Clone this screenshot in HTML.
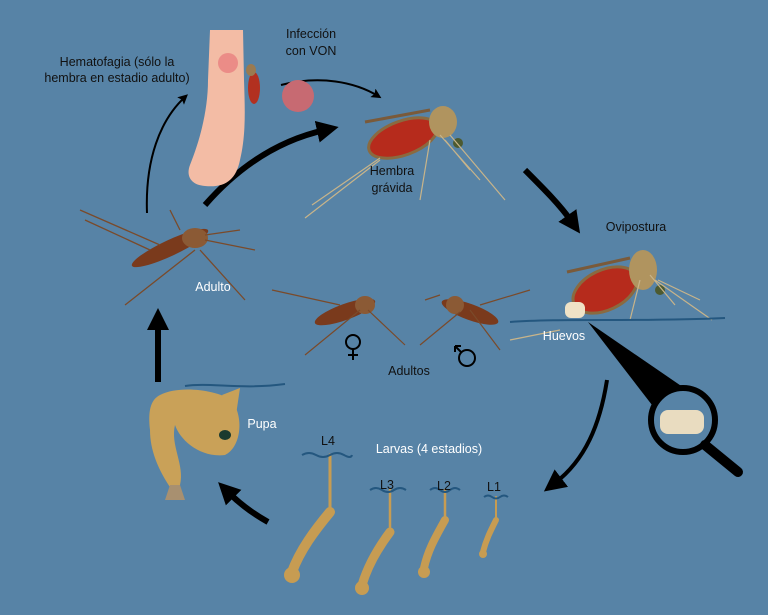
<!DOCTYPE html>
<html><head><meta charset="utf-8"><style>
html,body{margin:0;padding:0;background:#5783a6;}
svg{display:block}
text{font-family:"Liberation Sans",sans-serif;font-size:12.5px;}
</style></head><body>
<svg width="768" height="615" viewBox="0 0 768 615" xmlns="http://www.w3.org/2000/svg">
<defs>
<marker id="at" markerWidth="10" markerHeight="10" refX="6" refY="5" orient="auto" markerUnits="userSpaceOnUse"><path d="M0,0 L10,5 L0,10 L2,5 z" fill="#000"/></marker>
<marker id="ab" markerWidth="22" markerHeight="22" refX="8" refY="11" orient="auto" markerUnits="userSpaceOnUse"><path d="M0,0 L22,11 L0,22 z" fill="#000"/></marker>
</defs>
<rect width="768" height="615" fill="#5783a6"/>

<!-- arrows -->
<path d="M147,213 C145,160 160,120 185,97" stroke="#000" stroke-width="2" fill="none" marker-end="url(#at)"/>
<path d="M281,85 C320,75 355,82 378,96" stroke="#000" stroke-width="2" fill="none" marker-end="url(#at)"/>
<path d="M205,205 C240,165 280,140 325,130" stroke="#000" stroke-width="6" fill="none" marker-end="url(#ab)"/>
<path d="M525,170 C545,190 560,205 572,222" stroke="#000" stroke-width="6" fill="none" marker-end="url(#ab)"/>
<path d="M607,380 C600,425 585,460 555,483" stroke="#000" stroke-width="4" fill="none" marker-end="url(#ab)"/>
<path d="M268,522 C250,512 238,502 228,492" stroke="#000" stroke-width="6" fill="none" marker-end="url(#ab)"/>
<path d="M158,382 L158,322" stroke="#000" stroke-width="6" fill="none" marker-end="url(#ab)"/>

<!-- foot -->
<path d="M210,30 L243,30 L244,80 C245,110 246,135 240,160 C236,180 225,188 205,186 C190,185 186,175 190,165 C200,140 208,110 208,80 Z" fill="#f3bca5"/>
<circle cx="228" cy="63" r="10" fill="#e88080" opacity="0.8"/>
<ellipse cx="254" cy="88" rx="6" ry="16" fill="#b23020"/>
<ellipse cx="251" cy="70" rx="5" ry="6" fill="#9a7a50"/>
<circle cx="298" cy="96" r="16" fill="#c76a72"/>

<!-- Hembra gravida -->
<path d="M365,122 L430,110" stroke="#7a5a3a" stroke-width="3"/>
<ellipse cx="403" cy="138" rx="36" ry="17" transform="rotate(-20 403 138)" fill="#b62b1c" stroke="#8a6a40" stroke-width="3"/>
<ellipse cx="443" cy="122" rx="14" ry="16" fill="#b0945f"/>
<circle cx="458" cy="143" r="5" fill="#4c5a30"/>
<path d="M305,218 L380,160 M312,205 L380,158 M440,135 L480,180 M450,135 L505,200 M430,140 L420,200 M445,140 L470,170" stroke="#c8b48a" stroke-width="1.2" fill="none"/>

<!-- Ovipostura mosquito -->
<path d="M567,272 L630,258" stroke="#7a5a3a" stroke-width="3"/>
<ellipse cx="605" cy="290" rx="34" ry="20" transform="rotate(-25 605 290)" fill="#b62b1c" stroke="#8a6a40" stroke-width="3"/>
<ellipse cx="643" cy="270" rx="14" ry="20" fill="#b0945f"/>
<circle cx="660" cy="290" r="5" fill="#4c5a30"/>
<path d="M640,280 L630,320 M650,275 L675,305 M655,280 L712,320 M658,280 L700,300 M560,330 L510,340" stroke="#c8b48a" stroke-width="1.2" fill="none"/>
<path d="M510,322 C560,318 640,322 725,318" stroke="#24577f" stroke-width="2" fill="none"/>
<rect x="565" y="302" width="20" height="16" rx="6" fill="#efe2c6"/>
<!-- magnifier -->
<path d="M588,322 L652,405 L690,392 Z" fill="#000"/>
<circle cx="683" cy="420" r="32" fill="#5783a6" stroke="#000" stroke-width="6"/>
<path d="M705,445 L738,472" stroke="#000" stroke-width="10" stroke-linecap="round"/>
<rect x="660" y="410" width="44" height="24" rx="8" fill="#e9dcc0"/>

<!-- Adult -->
<ellipse cx="170" cy="248" rx="42" ry="8" transform="rotate(-25 170 248)" fill="#7a3a1c"/>
<ellipse cx="195" cy="238" rx="13" ry="10" fill="#8b5a35"/>
<path d="M80,210 L160,245 M85,220 L150,250 M195,250 L125,305 M200,250 L245,300 M205,240 L255,250 M205,235 L240,230 M180,230 L170,210" stroke="#7a4a2a" stroke-width="1.3" fill="none"/>

<!-- Adultos pair -->
<ellipse cx="345" cy="312" rx="32" ry="8" transform="rotate(-20 345 312)" fill="#7a3a1c"/>
<ellipse cx="365" cy="305" rx="10" ry="9" fill="#8b5a35"/>
<ellipse cx="470" cy="312" rx="30" ry="8" transform="rotate(20 470 312)" fill="#7a3a1c"/>
<ellipse cx="455" cy="305" rx="9" ry="9" fill="#8b5a35"/>
<path d="M272,290 L340,305 M360,310 L305,355 M368,310 L405,345 M460,312 L420,345 M470,310 L500,350 M480,305 L530,290 M425,300 L440,295" stroke="#7a4a2a" stroke-width="1.2" fill="none"/>
<!-- female symbol -->
<g stroke="#000" stroke-width="2" fill="none">
<circle cx="353" cy="342" r="7"/><path d="M353,349 L353,360 M348,355 L358,355"/>
<circle cx="467" cy="358" r="8"/><path d="M461,352 L455,346 M455,346 L455,352 M455,346 L461,346"/>
</g>

<!-- Pupa -->
<path d="M185,386 C210,382 240,390 285,384" stroke="#24577f" stroke-width="2" fill="none"/>
<path d="M160,395 C180,385 215,390 232,400 C245,420 240,448 225,455 C200,458 180,440 175,425 C170,445 185,465 180,485 L172,490 C158,470 150,450 150,430 C148,412 150,400 160,395 Z" fill="#c9a158"/>
<path d="M222,395 L240,388 L236,415 Z" fill="#c9a158"/>
<ellipse cx="225" cy="435" rx="6" ry="5" fill="#1b3a2e"/>
<path d="M170,485 L165,500 L185,500 L180,485 Z" fill="#a89070"/>

<!-- Larvae -->
<g stroke="#c79c52" fill="none" stroke-linecap="round">
<path d="M330,455 L330,512" stroke-width="3"/>
<path d="M330,512 C315,530 300,550 292,572" stroke-width="10"/>
<path d="M390,490 L390,532" stroke-width="2.5"/>
<path d="M390,532 C378,548 368,565 362,585" stroke-width="9"/>
<path d="M445,490 L445,520" stroke-width="2.5"/>
<path d="M445,520 C435,538 428,550 424,568" stroke-width="8"/>
<path d="M496,497 L496,520" stroke-width="2"/>
<path d="M496,520 C490,532 486,540 483,552" stroke-width="6"/>
</g>
<g fill="#c79c52"><circle cx="292" cy="575" r="8"/><circle cx="362" cy="588" r="7"/><circle cx="424" cy="572" r="6"/><circle cx="483" cy="554" r="4"/></g>
<g stroke="#24577f" stroke-width="2" fill="none">
<path d="M302,455 q7,-4 14,0 t14,0 t14,0 t8,0"/>
<path d="M370,490 q6,-4 12,0 t12,0 t12,0"/>
<path d="M430,490 q5,-4 10,0 t10,0 t10,0"/>
<path d="M484,497 q4,-3 8,0 t8,0 t8,0"/>
</g>

<!-- labels -->
<g fill="#111" text-anchor="middle">
<text x="117" y="66">Hematofagia (sólo la</text>
<text x="117" y="82">hembra en estadio adulto)</text>
<text x="311" y="38">Infección</text>
<text x="311" y="55">con VON</text>
<text x="392" y="175">Hembra</text>
<text x="392" y="192">grávida</text>
<text x="636" y="231">Ovipostura</text>
<text x="409" y="375">Adultos</text>
<text x="328" y="445">L4</text>
<text x="387" y="489">L3</text>
<text x="444" y="490">L2</text>
<text x="494" y="491">L1</text>
</g>
<g fill="#fff" text-anchor="middle">
<text x="213" y="291">Adulto</text>
<text x="564" y="340">Huevos</text>
<text x="262" y="428">Pupa</text>
<text x="429" y="453">Larvas (4 estadios)</text>
</g>
</svg>
</body></html>
